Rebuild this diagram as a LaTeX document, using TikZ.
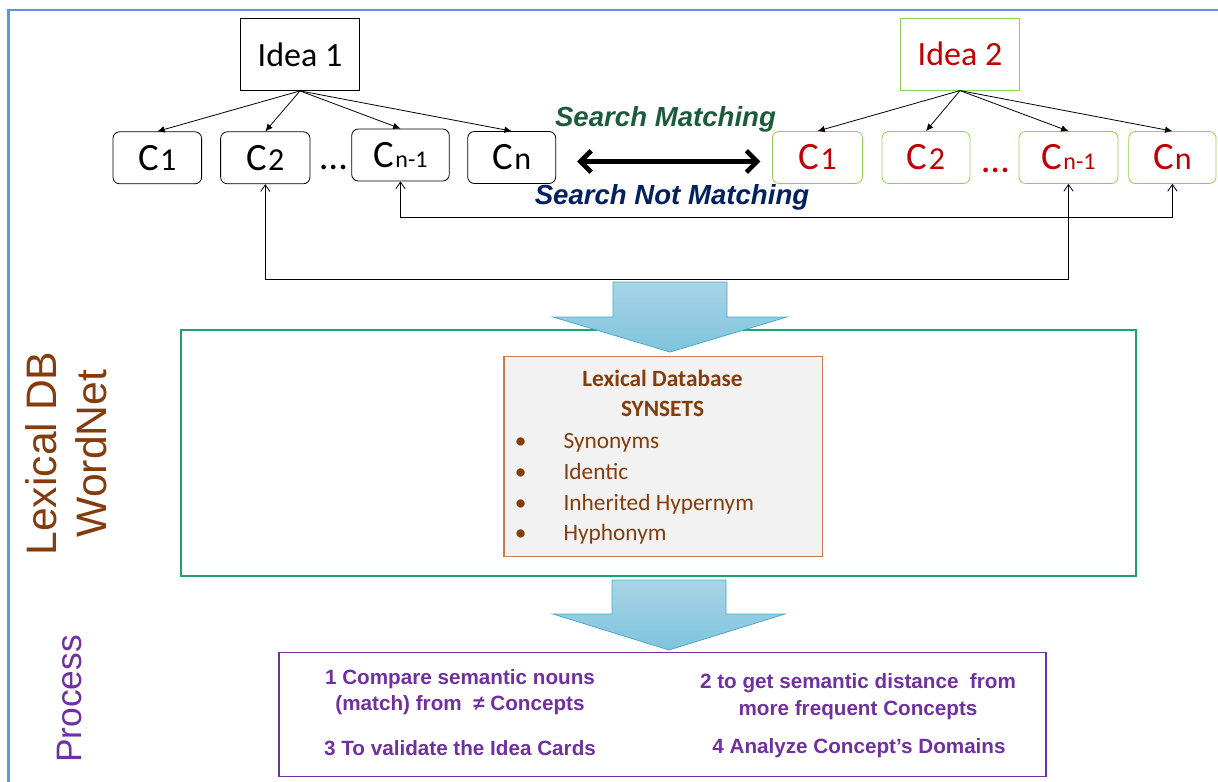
\documentclass[tikz,border=0pt]{standalone}
\usepackage{fontspec}
\setmainfont{Carlito}
\newfontfamily\arialfont{Liberation Sans}
\usepackage{xcolor}
\usepackage{tikz}
\usetikzlibrary{arrows.meta, positioning, calc}
\definecolor{frameblue}{HTML}{5B9BD5}
\definecolor{ideagreen}{HTML}{92D050}
\definecolor{ideared}{HTML}{C00000}
\definecolor{matchgreen}{HTML}{1E5B3C}
\definecolor{nomatchblue}{HTML}{002060}
\definecolor{dbgreen}{HTML}{22A06E}
\definecolor{lexedge}{HTML}{CD7A52}
\definecolor{lexbrown}{HTML}{843C0C}
\definecolor{procpurple}{HTML}{7030A0}
\definecolor{flowtop}{HTML}{A8D4E6}
\definecolor{flowbot}{HTML}{7EC4DD}
\definecolor{flowedge}{HTML}{4BACC6}
\newcommand{\conc}[2]{C\kern1pt{\fontsize{#2}{#2}\selectfont #1}}

\begin{document}
\begin{tikzpicture}[x=0.75pt, y=-0.75pt,
  idea/.style={rectangle, draw=black, line width=0.6pt, minimum width=89pt,
    minimum height=54pt, inner sep=0pt, font=\fontsize{25.5}{30}\selectfont},
  concept/.style={rectangle, rounded corners=5pt, draw=black, line width=0.6pt,
    minimum height=39pt, inner sep=0pt, font=\fontsize{29}{30}\selectfont},
  redone/.style={draw=ideagreen, text=ideared},
  treearrow/.style={-{Latex[length=5.5pt, width=5pt]}, line width=0.6pt},
  linkarrow/.style={{Straight Barb[length=5pt, width=7pt]}-{Straight Barb[length=5pt, width=7pt]},
    line width=0.6pt},
  bigarrow/.style={{Straight Barb[length=8pt, width=16pt]}-{Straight Barb[length=8pt, width=16pt]},
    line width=3.5pt},
  searchlbl/.style={font=\arialfont\bfseries\itshape\fontsize{20.7}{24}\selectfont},
  flowarrow/.style={top color=flowtop, bottom color=flowbot, draw=flowedge, line width=0.6pt},
  lextext/.style={text=lexbrown, font=\fontsize{17.5}{21}\selectfont, inner sep=0pt},
  proctext/.style={text=procpurple, align=center, inner sep=0pt,
    font=\arialfont\bfseries\fontsize{15.5}{19.5}\selectfont},
  sidelbl/.style={rotate=90, align=center, inner sep=0pt},
]
  \useasboundingbox (0,0) rectangle (1218,782);
  \draw[frameblue, line width=1.9pt] (8.3,782) -- (8.3,10) -- (1218,10);

  % idea 1 and its concepts
  \node[idea] (idea1) at (300,54.5) {Idea 1};
  \node[concept, minimum width=66.5pt] (l1) at (157.3,157.8) {\conc{1}{24}};
  \node[concept, minimum width=67pt] (l2) at (265.3,157.8) {\conc{2}{24}};
  \node[concept, minimum width=73.2pt] (l3) at (400.5,155) {\conc{n-1}{18}};
  \node[concept, minimum width=66pt] (l4) at (511.7,157.5) {\conc{n}{24}};
  \node[font=\fontsize{29}{30}\selectfont, inner sep=0pt] (ldots) at (333.5,167) {…};
  \foreach \c in {l1,l2,l3,l4}
    \draw[treearrow] (idea1.south) -- (\c.north);

  % idea 2 and its concepts
  \node[idea, redone] (idea2) at (960,54.2) {Idea 2};
  \node[concept, redone, minimum width=67.5pt] (r1) at (817.5,157.5) {\conc{1}{24}};
  \node[concept, redone, minimum width=66pt] (r2) at (926,157.5) {\conc{2}{24}};
  \node[concept, redone, minimum width=74.2pt] (r3) at (1068.5,157.5) {\conc{n-1}{18}};
  \node[concept, redone, minimum width=65.5pt] (r4) at (1172.4,157.5) {\conc{n}{24}};
  \node[text=ideared, font=\fontsize{29}{30}\selectfont, inner sep=0pt] (rdots) at (995.5,170.5) {…};
  \foreach \c in {r1,r2,r3,r4}
    \draw[treearrow] (idea2.south) -- (\c.north);

  % search between the two ideas
  \draw[bigarrow, shorten <=15.8pt, shorten >=8.8pt] ([yshift=-3pt]l4.east) -- ([yshift=-3pt]r1.west);
  \node[searchlbl, text=matchgreen] (match) at (665.5,119.5) {Search Matching};
  \node[searchlbl, text=nomatchblue] (nomatch) at (672,197) {Search Not Matching};
  \draw[linkarrow] (r4.south) -- ++(0,33.4) -| (l3.south);
  \draw[linkarrow] (r3.south) -- ++(0,95) -| (l2.south);

  % lexical database
  \node[draw=dbgreen, line width=0.8pt, minimum width=716.25pt, minimum height=184.5pt] (dbbox) at (658.5,453) {};
  \path[flowarrow] (613,282) -- (727,282) -- (727,317) -- (787,317) -- (670,352)
    -- (553,317) -- (613,317) -- cycle;
  \node[draw=lexedge, fill=black!5, line width=0.8pt, minimum width=239pt, minimum height=149.8pt] (lexdb) at (663.3,456.8) {};
  \node[lextext, font=\bfseries\fontsize{17.5}{21}\selectfont, anchor=base] (lextitle) at (662.5,386.7) {Lexical Database};
  \node[lextext, font=\bfseries\fontsize{17.5}{21}\selectfont, anchor=base] (synsets) at (662.5,416.7) {SYNSETS};
  \foreach \t/\y [count=\i] in {Synonyms/448, Identic/479, Inherited Hypernym/510, Hyphonym/540.7} {
    \node[lextext, anchor=base] (bul\i) at (520.7,\y) {•};
    \node[lextext, anchor=base west] (item\i) at (563.3,\y) {\t};
  }
  \node[sidelbl, text=lexbrown, font=\arialfont\fontsize{32}{37.5}\selectfont] (wnlbl) at (66.4,453.5) {Lexical DB\\WordNet};

  % process
  \path[flowarrow] (612,580) -- (726,580) -- (726,614) -- (785,614) -- (669,650)
    -- (553,614) -- (612,614) -- cycle;
  \node[draw=procpurple, line width=0.8pt, minimum width=575.25pt, minimum height=92.8pt] (procbox) at (662.5,714.8) {};
  \node[proctext] (p1) at (460,692) {1 Compare semantic nouns\\(match) from\ \ ≠ Concepts};
  \node[proctext, font=\arialfont\bfseries\fontsize{15.5}{20.2}\selectfont] (p2) at (858,696.5) {2 to get semantic distance\ \ from\\more frequent Concepts};
  \node[proctext] (p3) at (460,748) {3 To validate the Idea Cards};
  \node[proctext] (p4) at (859,748) {4 Analyze Concept’s Domains};
  \node[sidelbl, text=procpurple, font=\arialfont\fontsize{26.5}{30}\selectfont] (proclbl) at (70,699) {Process};
\end{tikzpicture}
\end{document}
